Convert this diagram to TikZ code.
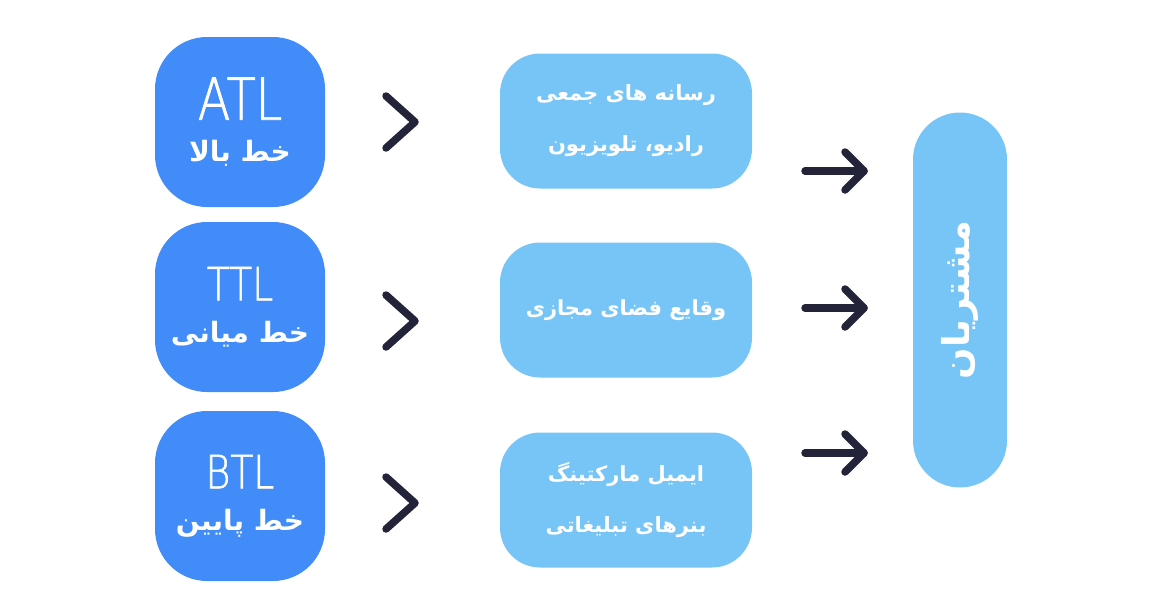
\documentclass[tikz,border=0pt]{standalone}
\usepackage{fontspec}
\usepackage{tikz}
\setmainfont{DejaVu Sans}
\newfontfamily\arabicfont[Script=Arabic]{DejaVu Sans}
\newfontfamily\latinlight[FakeBold=1.2,FakeStretch=0.82]{DejaVu Sans ExtraLight}
\TeXXeTstate=1
\usetikzlibrary{positioning,calc}

\definecolor{tierblue}{HTML}{418CF9}
\definecolor{skyblue}{HTML}{77C5F6}
\definecolor{inkdark}{HTML}{23233A}

\tikzset{
  tierbox/.style={fill=tierblue, rounded corners=52pt, minimum width=170pt, minimum height=170pt,
    text=white, align=center, inner sep=0pt, font=\fontsize{28}{42}\selectfont},
  mediabox/.style={fill=skyblue, rounded corners=40pt, minimum width=252pt, minimum height=135pt,
    text=white, align=center, inner sep=0pt, font=\arabicfont\bfseries\fontsize{21}{51}\selectfont},
  chev/.style={draw=inkdark, line width=7.5pt, line cap=round, line join=round},
}

\begin{document}
\begin{tikzpicture}[x=1pt, y=-1pt]
  \useasboundingbox (0,0) rectangle (1161,608);
  % left column: tiers
  \node[tierbox] (atl) at (240,122) {{\latinlight\fontsize{58}{42}\selectfont ATL}\\
    {\arabicfont\bfseries\beginR خط بالا\endR}};
  \node[tierbox] (ttl) at (240,307) {{\latinlight\fontsize{46}{42}\selectfont TTL}\\
    {\arabicfont\bfseries\beginR خط میانی\endR}};
  \node[tierbox] (btl) at (240,496) {{\latinlight\fontsize{46}{42}\selectfont BTL}\\
    {\arabicfont\bfseries\beginR خط پایین\endR}};
  % middle column: channels
  \node[mediabox] (mass) at (626,121) {\beginR رسانه های جمعی\endR\\ \beginR رادیو، تلویزیون\endR};
  \node[mediabox] (social) at (626,310) {\beginR وقایع فضای مجازی\endR};
  \node[mediabox] (mail) at (626,500) {\beginR ایمیل مارکتینگ\endR\\ \beginR بنرهای تبلیغاتی\endR};
  % right column: customers
  \node[fill=skyblue, rounded corners=47pt, minimum width=94pt, minimum height=375pt, inner sep=0pt]
    (cust) at (960,300) {};
  \node[rotate=90, text=white, font=\arabicfont\bfseries\fontsize{37}{40}\selectfont]
    (custlabel) at (cust.center) {\beginR مشتریان\endR};
  % chevrons
  \coordinate (c1) at (415,122);
  \coordinate (c2) at (415,321);
  \coordinate (c3) at (415,503);
  \foreach \c in {c1,c2,c3}
    \draw[chev] (\c) ++(-29,-26) -- (\c) -- ++(-29,26);
  % arrows
  \coordinate (a1) at (805,171);
  \coordinate (a2) at (805,308);
  \coordinate (a3) at (805,453);
  \foreach \a in {a1,a2,a3} {
    \draw[chev] (\a) -- ++(59,0) coordinate (tip);
    \draw[chev] (tip) ++(-19,-19) -- (tip) -- ++(-19,19);
  }
\end{tikzpicture}
\end{document}
